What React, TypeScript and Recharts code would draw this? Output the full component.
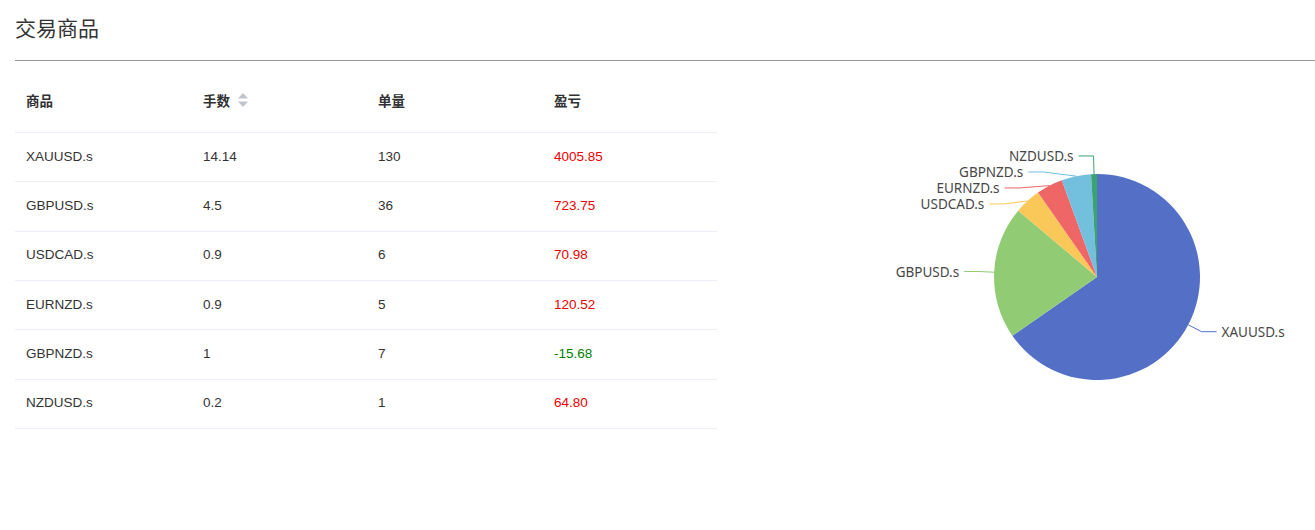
import React from "react";
import { PieChart, Pie, Cell } from "recharts";

const symbols = ["XAUUSD.s", "GBPUSD.s", "USDCAD.s", "EURNZD.s", "GBPNZD.s", "NZDUSD.s"];
const lots = [14.14, 4.5, 0.9, 0.9, 1, 0.2];
const orders = [130, 36, 6, 5, 7, 1];
const profits = ["4005.85", "723.75", "70.98", "120.52", "-15.68", "64.80"];
const headers = ["商品", "手数", "单量", "盈亏"];
const colors = ["#5470c6", "#91cc75", "#fac858", "#ee6666", "#73c0de", "#3ba272"];

const pieData = symbols.map((name, i) => ({ name, value: lots[i] }));

const LEN1 = 15;
const LEN2 = 15;
const GAP = 16;

// echarts-like outside label layout: push overlapping labels apart, then snap to the elbow circle
function layoutLabels(cx: number, cy: number, r: number) {
  const total = lots.reduce((s, v) => s + v, 0);
  let acc = 0;
  const items = lots.map((v, i) => {
    const mid = ((acc + v / 2) / total) * 2 * Math.PI;
    acc += v;
    const dx = Math.sin(mid);
    const dy = -Math.cos(mid);
    return {
      i,
      left: dx < 0,
      edgeX: cx + r * dx,
      edgeY: cy + r * dy,
      elbowX: cx + (r + LEN1) * dx,
      y0: cy + (r + LEN1) * dy,
      y: cy + (r + LEN1) * dy,
    };
  });
  [true, false].forEach((side) => {
    const list = items.filter((it) => it.left === side).sort((a, b) => a.y0 - b.y0);
    let cluster: typeof list = [];
    const flush = () => {
      if (cluster.length > 1) {
        const mean = cluster.reduce((s, it) => s + (it.y - it.y0), 0) / cluster.length;
        cluster.forEach((it) => (it.y -= mean * 0.25));
      }
      cluster = [];
    };
    list.forEach((it, k) => {
      if (k > 0) {
        const prev = list[k - 1];
        if (it.y0 < prev.y + GAP) {
          it.y = prev.y + GAP;
        } else {
          flush();
        }
      }
      cluster.push(it);
    });
    flush();
  });
  const R = r + LEN1;
  return items.map((it) => {
    const ddy = it.y - cy;
    let ex = it.elbowX;
    if (Math.abs(ddy) < R) {
      const w = Math.sqrt(R * R - ddy * ddy);
      ex = it.left ? cx - w : cx + w;
    }
    const endX = it.left ? ex - LEN2 : ex + LEN2;
    return { ...it, ex, endX, textX: it.left ? endX - 5 : endX + 5 };
  });
}

const renderLabel = (props: any) => {
  const { cx, cy, outerRadius, index } = props;
  const l = layoutLabels(cx, cy, outerRadius)[index];
  return (
    <g key={`lbl-${index}`}>
      <polyline
        points={`${l.edgeX},${l.edgeY} ${l.ex},${l.y} ${l.endX},${l.y}`}
        fill="none"
        stroke={colors[index]}
        strokeWidth={1}
      />
      <text
        x={l.textX}
        y={l.y}
        textAnchor={l.left ? "end" : "start"}
        dominantBaseline="central"
        fontSize={13.5}
        fontFamily="'Noto Sans', sans-serif"
        fill="#464646"
      >
        {symbols[index]}
      </text>
    </g>
  );
};

const colX = [15, 192, 367, 543];
const colW = [177, 175, 176, 174];

function SortIcon() {
  return (
    <svg width="14" height="16" style={{ verticalAlign: "middle", marginLeft: 6 }}>
      <path d="M7 1 L12 6.5 L2 6.5 Z" fill="#c0c4cc" />
      <path d="M7 15 L12 9.5 L2 9.5 Z" fill="#c0c4cc" />
    </svg>
  );
}

export default function App() {
  const rowH = 49.33;
  const headTop = 68;
  const headH = 64;
  const cellText: React.CSSProperties = {
    position: "absolute",
    fontFamily: "'Liberation Sans', Arial, sans-serif",
    fontSize: 13.5,
    color: "#333",
    lineHeight: "20px",
  };
  return (
    <div
      style={{
        position: "fixed",
        left: 0,
        top: 0,
        width: 1315,
        height: 530,
        background: "#fff",
        overflow: "hidden",
      }}
    >
      <div
        style={{
          position: "absolute",
          left: 15,
          top: 13,
          fontSize: 21,
          lineHeight: "28px",
          color: "#333",
          fontFamily: "'Noto Sans CJK SC', sans-serif",
        }}
      >
        交易商品
      </div>
      <div style={{ position: "absolute", left: 15, top: 60, width: 1300, height: 1, background: "#999" }} />

      {headers.map((h, c) => (
        <div
          key={h}
          style={{
            position: "absolute",
            left: colX[c] + 11,
            top: headTop + headH / 2 - 11,
            height: 22,
            lineHeight: "22px",
            fontSize: 13.5,
            fontWeight: 700,
            color: "#303133",
            fontFamily: "'Noto Sans CJK SC', sans-serif",
            display: "flex",
            alignItems: "center",
          }}
        >
          {h}
          {c === 1 && <SortIcon />}
        </div>
      ))}
      <div style={{ position: "absolute", left: 15, top: headTop + headH, width: 702, height: 1, background: "#ebeef5" }} />

      {symbols.map((s, r) => {
        const top = headTop + headH + r * rowH;
        const vals = [s, String(lots[r]), String(orders[r]), profits[r]];
        return (
          <React.Fragment key={s}>
            {vals.map((v, c) => (
              <div
                key={c}
                style={{
                  ...cellText,
                  left: colX[c] + 11,
                  top: top + rowH / 2 - 10,
                  width: colW[c] - 11,
                  color: c === 3 ? (profits[r].startsWith("-") ? "green" : "#ee0000") : "#333",
                }}
              >
                {v}
              </div>
            ))}
            <div
              style={{
                position: "absolute",
                left: 15,
                top: top + rowH,
                width: 702,
                height: 1,
                background: "#ebeef5",
              }}
            />
          </React.Fragment>
        );
      })}

      <div style={{ position: "absolute", left: 877, top: 77, width: 440, height: 400 }}>
        <PieChart width={440} height={400}>
          <Pie
            data={pieData}
            dataKey="value"
            nameKey="name"
            cx="50%"
            cy="50%"
            outerRadius={103}
            startAngle={90}
            endAngle={-270}
            stroke="none"
            label={renderLabel}
            labelLine={false}
            isAnimationActive={false}
          >
            {pieData.map((d, i) => (
              <Cell key={d.name} fill={colors[i]} />
            ))}
          </Pie>
        </PieChart>
      </div>
    </div>
  );
}
